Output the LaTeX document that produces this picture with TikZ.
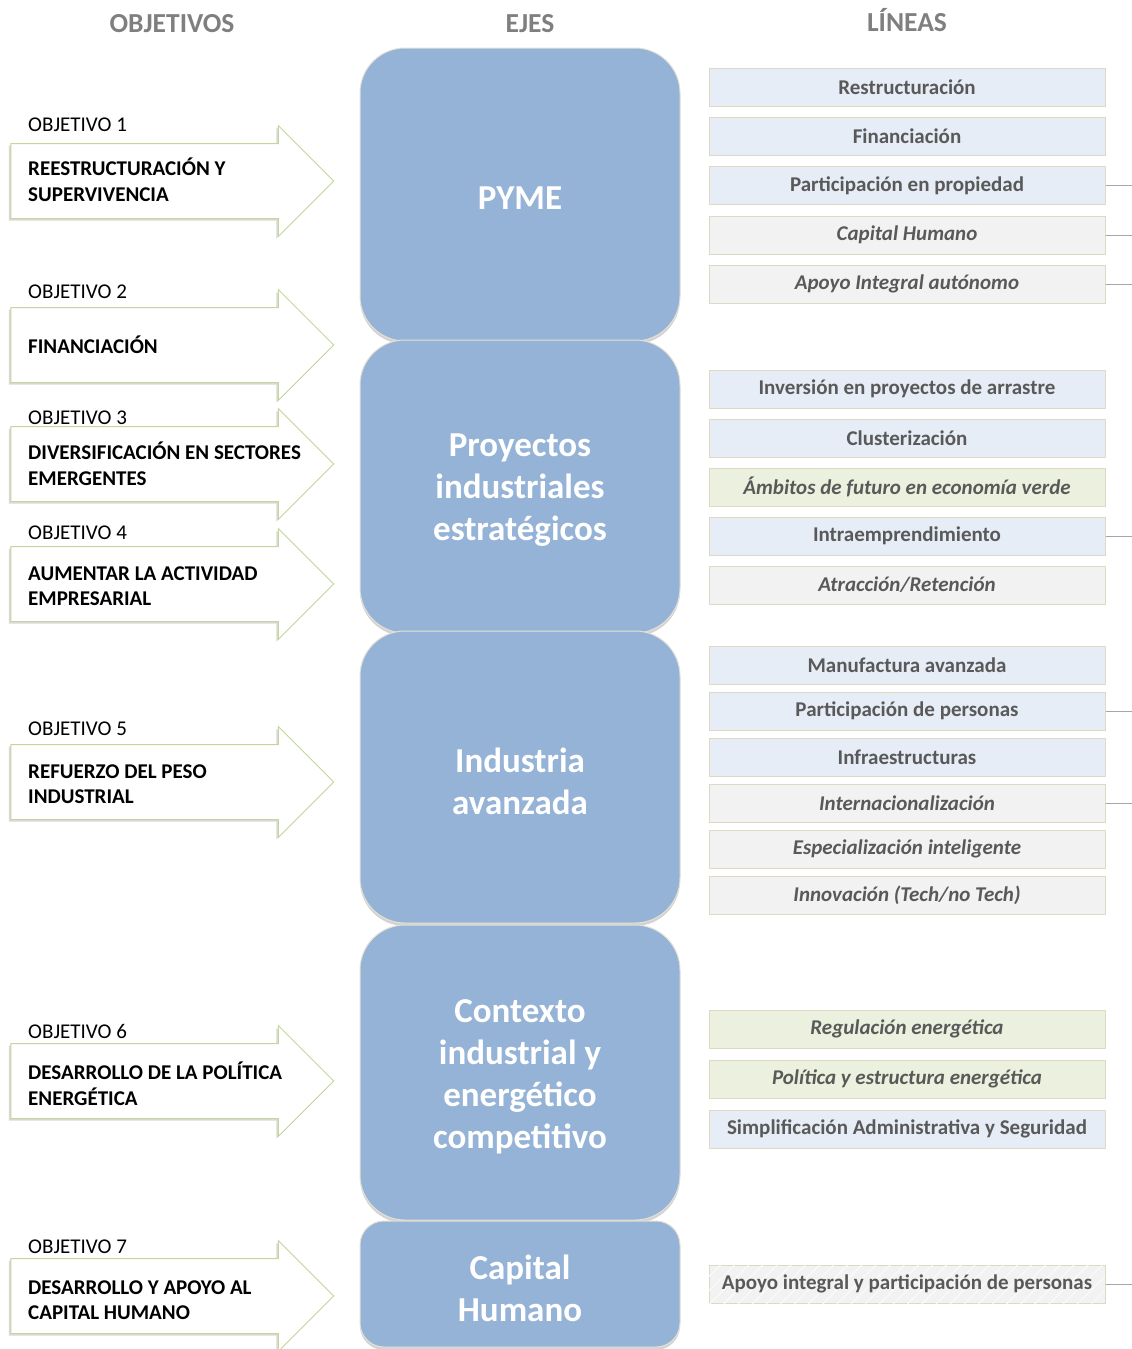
\documentclass[tikz,border=0pt]{standalone}
\usepackage{fontspec}
\setmainfont{Carlito}
\usetikzlibrary{shapes.arrows,shadows,patterns.meta}
\definecolor{ejefill}{HTML}{95B3D7}
\definecolor{ejeline}{HTML}{E4E0D4}
\definecolor{objline}{HTML}{C3D69B}
\definecolor{lblue}{HTML}{E6EDF6}
\definecolor{lgray}{HTML}{F2F2F2}
\definecolor{lgreen}{HTML}{EBF1DE}
\definecolor{lline}{HTML}{DDD9C3}
\definecolor{ltext}{HTML}{595959}
\definecolor{headtext}{HTML}{7F7F7F}
\tikzstyle{header}=[font=\fontsize{27.5}{32}\selectfont\bfseries, text=headtext]
\tikzstyle{objarrow}=[%
	single arrow,
	draw=objline,
	fill=white,
	line width=1pt,
	single arrow head extend=18pt,
	single arrow tip angle=90,
	inner xsep=0pt,
	inner ysep=37pt,
	minimum height=323pt,
	outer sep=0pt,
	drop shadow={shadow xshift=-2pt, shadow yshift=-2pt, opacity=0.3},
	]
\tikzstyle{objnum}=[anchor=west, inner sep=0pt, font=\fontsize{21}{25.6}\selectfont]
\tikzstyle{objtext}=[anchor=west, inner sep=0pt, align=left, font=\fontsize{21}{25.6}\selectfont\bfseries]
\tikzstyle{eje}=[%
	rectangle,
	rounded corners=45pt,
	draw=ejeline,
	line width=1pt,
	fill=ejefill,
	minimum width=320pt,
	drop shadow={shadow xshift=0pt, shadow yshift=-3pt, opacity=0.35},
	]
\tikzstyle{ejetext}=[text=white, align=center, yshift=-4pt, font=\fontsize{35}{42}\selectfont\bfseries]
\tikzstyle{linea}=[%
	rectangle,
	draw=lline,
	line width=1pt,
	minimum width=396pt,
	minimum height=38pt,
	text=ltext,
	font=\fontsize{21}{25}\selectfont\bfseries,
	]
\tikzstyle{lineait}=[linea, font=\fontsize{21}{25}\selectfont\bfseries\itshape]
\tikzstyle{tick}=[draw=black!35, line width=1pt]

\begin{document}
\begin{tikzpicture}[x=1pt,y=-1pt]
\useasboundingbox (0,0) rectangle (1132,1349);
\coordinate (rim) at (1132,0);

\node[header] (hobj) at (172,24) {OBJETIVOS};
\node[header] (heje) at (530,24) {EJES};
\node[header] (hlin) at (907,20) {LÍNEAS};

% objetivos
\node[objarrow] (o1) at (153.5,181) {};
\node[objarrow] (o2) at (153.5,345) {};
\node[objarrow] (o3) at (153.5,464) {};
\node[objarrow] (o4) at (153.5,584) {};
\node[objarrow] (o5) at (153.5,782) {};
\node[objarrow] (o6) at (153.5,1081) {};
\node[objarrow] (o7) at (153.5,1296) {};

\node[objnum] (n1) at (28,125) {OBJETIVO 1};
\node[objnum] (n2) at (28,292) {OBJETIVO 2};
\node[objnum] (n3) at (28,418) {OBJETIVO 3};
\node[objnum] (n4) at (28,533) {OBJETIVO 4};
\node[objnum] (n5) at (28,729) {OBJETIVO 5};
\node[objnum] (n6) at (28,1031) {OBJETIVO 6};
\node[objnum] (n7) at (28,1247) {OBJETIVO 7};

\node[objtext] (t1) at (28,180) {REESTRUCTURACIÓN Y\\SUPERVIVENCIA};
\node[objtext] (t2) at (28,345) {FINANCIACIÓN};
\node[objtext] (t3) at (28,464) {DIVERSIFICACIÓN EN SECTORES\\EMERGENTES};
\node[objtext] (t4) at (28,586) {AUMENTAR LA ACTIVIDAD\\EMPRESARIAL};
\node[objtext] (t5) at (28,784) {REFUERZO DEL PESO\\INDUSTRIAL};
\node[objtext] (t6) at (28,1084) {DESARROLLO DE LA POLÍTICA\\ENERGÉTICA};
\node[objtext] (t7) at (28,1300) {DESARROLLO Y APOYO AL\\CAPITAL HUMANO};

% ejes
\node[eje, minimum height=293pt, label={[ejetext]center:PYME}] (pyme) at (520,194.5) {};
\node[eje, minimum height=293pt, label={[ejetext]center:{Proyectos\\industriales\\estratégicos}}] (proy) at (520,486.5) {};
\node[eje, minimum height=292pt, label={[ejetext]center:{Industria\\avanzada}}] (indu) at (520,777) {};
\node[eje, minimum height=295pt, label={[ejetext]center:{Contexto\\industrial y\\energético\\competitivo}}] (cont) at (520,1072.5) {};
\node[eje, minimum height=126pt, rounded corners=24pt, label={[ejetext]center:{Capital\\Humano}}] (capi) at (520,1284) {};

% lineas
\node[linea, fill=lblue] (l1) at (907,87.5) {Restructuración};
\node[linea, fill=lblue] (l2) at (907,136.5) {Financiación};
\node[linea, fill=lblue] (l3) at (907,185.5) {Participación en propiedad};
\node[lineait, fill=lgray] (l4) at (907,235) {Capital Humano};
\node[lineait, fill=lgray] (l5) at (907,284) {Apoyo Integral autónomo};

\node[linea, fill=lblue] (l6) at (907,389) {Inversión en proyectos de arrastre};
\node[linea, fill=lblue] (l7) at (907,438) {Clusterización};
\node[lineait, fill=lgreen] (l8) at (907,487) {Ámbitos de futuro en economía verde};
\node[linea, fill=lblue] (l9) at (907,536) {Intraemprendimiento};
\node[lineait, fill=lgray] (l10) at (907,585) {Atracción/Retención};

\node[linea, fill=lblue] (l11) at (907,665) {Manufactura avanzada};
\node[linea, fill=lblue] (l12) at (907,711) {Participación de personas};
\node[linea, fill=lblue] (l13) at (907,757) {Infraestructuras};
\node[lineait, fill=lgray] (l14) at (907,803) {Internacionalización};
\node[lineait, fill=lgray] (l15) at (907,849) {Especialización inteligente};
\node[lineait, fill=lgray] (l16) at (907,895) {Innovación (Tech/no Tech)};

\node[lineait, fill=lgreen] (l17) at (907,1029) {Regulación energética};
\node[lineait, fill=lgreen] (l18) at (907,1079) {Política y estructura energética};
\node[linea, fill=lblue] (l19) at (907,1129) {Simplificación Administrativa y Seguridad};

\node[linea, fill=lgray, postaction={pattern={Lines[angle=45,distance=10pt,line width=1pt]}, pattern color=white!70!lgray}] (l20) at (907,1284) {Apoyo integral y participación de personas};

\foreach \l in {l3,l4,l5,l9,l12,l14,l20}
  \draw[tick] (\l.east) -- (\l.east -| rim);
\end{tikzpicture}
\end{document}
